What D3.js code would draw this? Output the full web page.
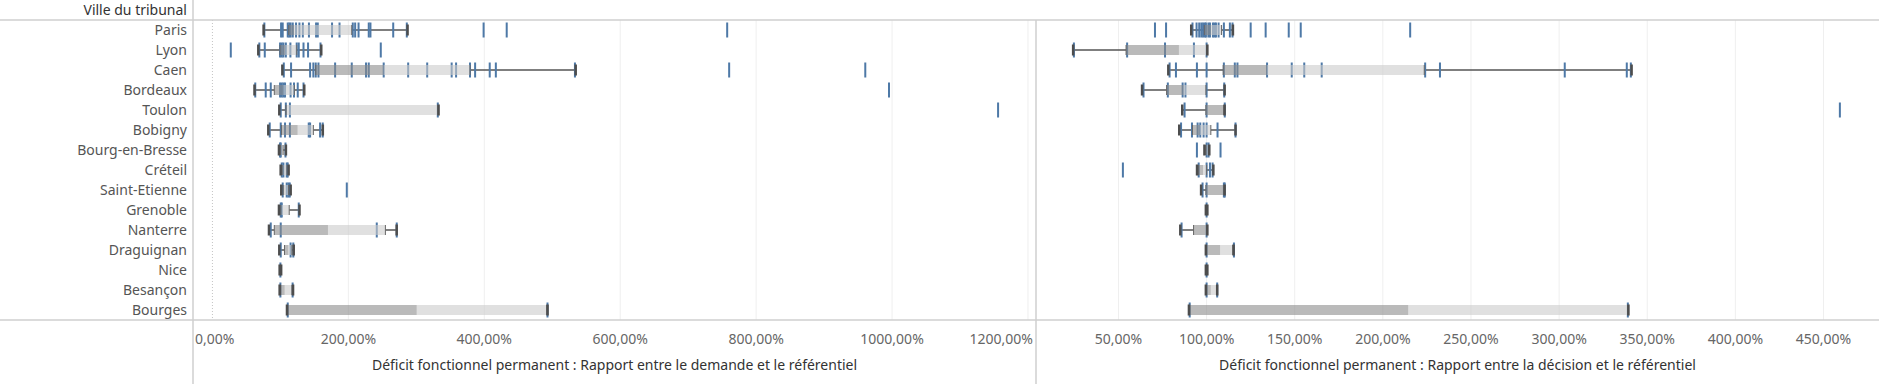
<!DOCTYPE html>
<html>
<head>
<meta charset="utf-8">
<script src="https://cdn.jsdelivr.net/npm/d3@7"></script>
<style>
  body { margin: 0; background: #fff; }
  text { font-family: "Noto Sans", sans-serif; }
</style>
</head>
<body>
<script>
// villes, dans l'ordre des lignes
const villes = ["Paris", "Lyon", "Caen", "Bordeaux", "Toulon", "Bobigny", "Bourg-en-Bresse", "Créteil",
  "Saint-Etienne", "Grenoble", "Nanterre", "Draguignan", "Nice", "Besançon", "Bourges"];

// rapport demande / référentiel (%) : un tableau de valeurs par ville
const demandePoints = [
  [76.4, 101, 103.4, 110.8, 113, 115, 118.2, 123, 128, 133, 142, 152.5, 155, 176, 187, 206.5, 210, 215, 230, 232.5, 266, 286, 399, 433, 757.4],
  [27, 69, 77, 99.5, 102, 104.4, 108, 114.7, 124, 127, 134, 140.7, 159, 247.7],
  [105, 115.7, 143.7, 148.5, 152, 156, 180.5, 205, 226, 230, 252, 288, 316, 352, 358.5, 379, 386.5, 408, 417, 533.4, 760.3, 960.6],
  [63, 78.4, 85.8, 99.5, 102, 104.4, 106.8, 115, 120, 125.5, 134, 995.5],
  [100.5, 108, 114, 331.6, 1156],
  [84.3, 100.5, 106.8, 114, 141.7, 143.7, 158.4, 162.3],
  [99.5, 100.5, 107.5],
  [102, 104.4, 109.3, 110.8],
  [103.4, 109.3, 111.8, 113.8, 197.7],
  [100.5, 102, 127],
  [85.8, 100.5, 241.8, 271.2],
  [100.5, 115, 119],
  [100],
  [100, 118],
  [110.8, 493]
];
// [moustache basse, Q1, médiane, Q3, moustache haute]
const demandeBox = [
  [76.4, 112.3, 120, 205, 286],
  [68.6, 99.5, 107, 124, 159],
  [104, 152, 252, 379, 533.4],
  [63, 91, 104.4, 120.6, 134],
  [99.5, 108, 110, 331.6, 331.6],
  [83.3, 101.5, 125.5, 148.5, 161.3],
  [99, 100, 102, 104, 107],
  [101.5, 102.5, 105, 109.5, 111],
  [102.4, 104, 106, 112, 114],
  [99, 100.5, 102, 113, 127],
  [84.3, 91, 170, 254.5, 270],
  [99.5, 106, 112, 117, 118.5],
  [100, 100, 100, 100, 100],
  [100, 100.5, 106.4, 117, 117.5],
  [110.8, 110.8, 300.7, 492, 492]
];

// rapport décision / référentiel (%)
const decisionPoints = [
  [70.7, 77, 92, 94.3, 95.8, 97, 98, 99, 99.6, 101, 101.9, 103.6, 104.5, 105.3, 106.8, 109.8, 113.2, 114.7, 125, 133.5, 146.6, 153.4, 215.5],
  [24.7, 54.9, 76.4, 92.8, 100],
  [79, 82.6, 94.5, 100, 109.8, 116, 117.5, 134.3, 148.3, 155.4, 165.3, 224, 232.4, 303.2, 338.4, 340.7],
  [64.2, 78, 86.4, 88, 100, 110],
  [87.5, 100, 110.3, 459.3],
  [85.5, 91.7, 94.9, 96.4, 98.3, 100, 106.2, 116.4],
  [94.5, 100, 101.1, 107.9],
  [52.5, 95.5, 100, 101.9, 103.4],
  [97.7, 100, 109.8, 110.3],
  [100],
  [85.8, 100],
  [100, 115.5],
  [100],
  [100, 106],
  [90.4, 339]
];
const decisionBox = [
  [91.7, 98.7, 102.4, 108.5, 114.5],
  [24.7, 54.3, 84.3, 100, 100],
  [78.7, 109.4, 134.3, 223.5, 340.7],
  [63.8, 77.3, 87, 99.6, 109.8],
  [86.6, 99.6, 109.8, 109.8, 109.8],
  [84.9, 92, 96.2, 102.4, 116],
  [99.2, 99.5, 100.5, 101.1, 101.1],
  [95, 95.5, 98, 100, 103.4],
  [97.3, 99.6, 109.8, 109.8, 109.8],
  [100, 100, 100, 100, 100],
  [85.5, 92.6, 100, 100, 100],
  [100, 100, 107.7, 114.9, 114.9],
  [100, 100, 100, 100, 100],
  [100, 100, 102.4, 105.6, 105.6],
  [90.4, 90.4, 214.5, 338.9, 338.9]
];

const ticksDemande = [0, 200, 400, 600, 800, 1000, 1200];
const ticksDecision = [50, 100, 150, 200, 250, 300, 350, 400, 450];

const width = 1879, height = 384;
const yTop = 20, yBottom = 320, labelRight = 193, split = 1036;
const border = "#cfcfcf";
const fmt = v => d3.format(".2f")(v).replace(".", ",") + "%";

const svg = d3.select("body").append("svg")
  .attr("width", width)
  .attr("height", height);

const y = d3.scaleBand().domain(villes).range([yTop, yBottom]);

const panels = [
  { points: demandePoints, box: demandeBox, ticks: ticksDemande,
    x: d3.scaleLinear().domain([-28.6, 1211.8]).range([labelRight, split]),
    x0: labelRight, x1: split, zero: true,
    title: "Déficit fonctionnel permanent : Rapport entre le demande et le référentiel" },
  { points: decisionPoints, box: decisionBox, ticks: ticksDecision,
    x: d3.scaleLinear().domain([3.2, 481.5]).range([split, width]),
    x0: split, x1: width, zero: false,
    title: "Déficit fonctionnel permanent : Rapport entre la décision et le référentiel" }
];

panels.forEach((p, k) => {
  const g = svg.append("g").attr("class", "panel" + k);
  const x = p.x;

  // grille
  g.selectAll(".grid")
    .data(p.ticks.filter(t => t !== 0))
    .enter()
    .append("line")
    .attr("x1", d => x(d)).attr("x2", d => x(d))
    .attr("y1", yTop).attr("y2", yBottom)
    .attr("stroke", "#efefef")
    .attr("stroke-width", 1);

  if (p.zero) {
    g.append("line")
      .attr("x1", x(0)).attr("x2", x(0))
      .attr("y1", yTop).attr("y2", yBottom)
      .attr("stroke", "#c4c4c4")
      .attr("stroke-dasharray", "1,2");
  }

  const rows = g.selectAll(".row")
    .data(villes)
    .enter()
    .append("g")
    .attr("transform", d => `translate(0,${y(d) + y.bandwidth() / 2})`);

  // moustaches (hors de la boîte)
  [[0, 1], [3, 4]].forEach(([a, b]) => {
    rows.append("line")
      .attr("x1", (d, i) => x(p.box[i][a]))
      .attr("x2", (d, i) => x(p.box[i][b]))
      .attr("stroke", "#555")
      .attr("stroke-width", 1.5);
  });

  // points (traits bleus)
  rows.each(function (d, i) {
    d3.select(this).selectAll(".pt")
      .data(p.points[i])
      .enter()
      .append("rect")
      .attr("x", v => x(v) - 1)
      .attr("y", -7.5)
      .attr("width", 2)
      .attr("height", 15)
      .attr("fill", "#4e79a7");
  });

  // boîte : Q1 -> médiane foncé, médiane -> Q3 clair
  rows.append("rect")
    .attr("x", (d, i) => x(p.box[i][1]))
    .attr("y", -5)
    .attr("width", (d, i) => x(p.box[i][2]) - x(p.box[i][1]))
    .attr("height", 10)
    .attr("fill", "#8c8c8c")
    .attr("fill-opacity", 0.6);
  rows.append("rect")
    .attr("x", (d, i) => x(p.box[i][2]))
    .attr("y", -5)
    .attr("width", (d, i) => x(p.box[i][3]) - x(p.box[i][2]))
    .attr("height", 10)
    .attr("fill", "#cbcbcb")
    .attr("fill-opacity", 0.6);

  // bords de boîte
  [1, 3].forEach(j => {
    rows.append("line")
      .attr("x1", (d, i) => x(p.box[i][j])).attr("x2", (d, i) => x(p.box[i][j]))
      .attr("y1", -5).attr("y2", 5)
      .attr("stroke", "#666")
      .attr("stroke-width", 1);
  });
  // extrémités des moustaches
  [0, 4].forEach(j => {
    rows.append("rect")
      .attr("x", (d, i) => x(p.box[i][j]) - (j === 0 ? 2 : 0.5))
      .attr("y", -5.5)
      .attr("width", 2.5)
      .attr("height", 11)
      .attr("fill", "#4d4d4d");
  });

  // libellés de l'axe
  const labels = g.selectAll(".tick")
    .data(p.ticks)
    .enter()
    .append("text")
    .attr("x", d => x(d))
    .attr("y", 344)
    .attr("text-anchor", "middle")
    .attr("font-size", 14)
    .attr("fill", "#666")
    .text(d => fmt(d));
  labels.each(function () {
    const t = d3.select(this);
    const w = this.getComputedTextLength();
    const cx = +t.attr("x");
    if (cx - w / 2 < p.x0 + 2) t.attr("x", p.x0 + 2 + w / 2);
    if (cx + w / 2 > p.x1 - 3) t.attr("x", p.x1 - 3 - w / 2);
  });

  g.append("text")
    .attr("x", (p.x0 + p.x1) / 2)
    .attr("y", 370)
    .attr("text-anchor", "middle")
    .attr("font-size", 14)
    .attr("fill", "#333")
    .text(p.title);
});

// libellés des villes
svg.selectAll(".ville")
  .data(villes)
  .enter()
  .append("text")
  .attr("x", 187)
  .attr("y", d => y(d) + y.bandwidth() / 2 + 5)
  .attr("text-anchor", "end")
  .attr("font-size", 14)
  .attr("fill", "#555")
  .text(d => d);

svg.append("text")
  .attr("x", 187)
  .attr("y", 15)
  .attr("text-anchor", "end")
  .attr("font-size", 14)
  .attr("fill", "#333")
  .text("Ville du tribunal");

// cadres
svg.append("line").attr("x1", 0).attr("x2", width).attr("y1", yTop).attr("y2", yTop)
  .attr("stroke", border).attr("stroke-width", 1.5);
svg.append("line").attr("x1", 0).attr("x2", width).attr("y1", yBottom).attr("y2", yBottom)
  .attr("stroke", border).attr("stroke-width", 1.5);
svg.append("line").attr("x1", labelRight).attr("x2", labelRight).attr("y1", 0).attr("y2", height)
  .attr("stroke", border).attr("stroke-width", 1.5);
svg.append("line").attr("x1", split).attr("x2", split).attr("y1", yTop).attr("y2", height)
  .attr("stroke", border).attr("stroke-width", 1.5);
</script>
</body>
</html>
